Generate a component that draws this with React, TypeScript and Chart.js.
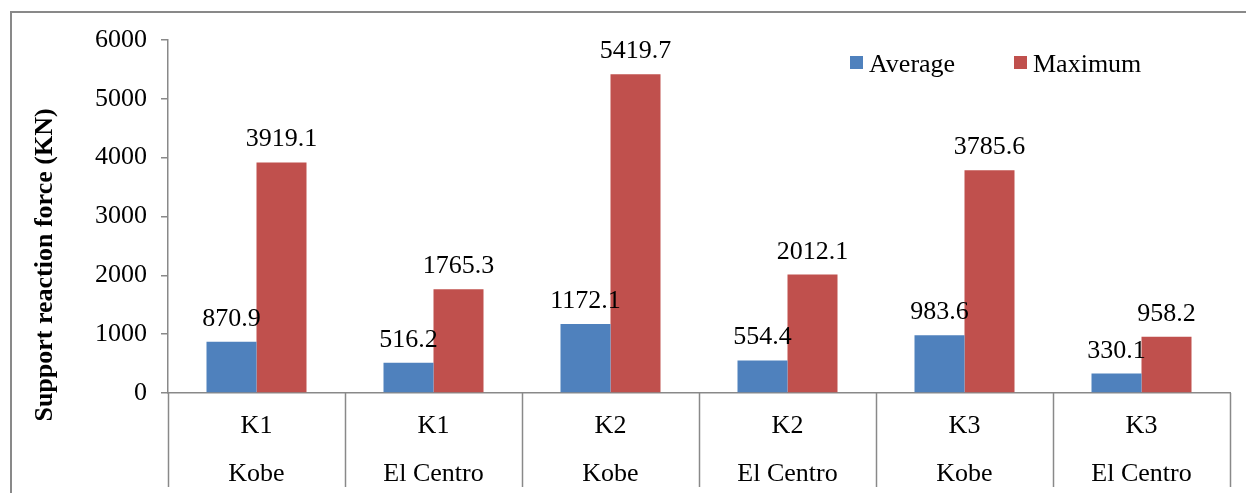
import React, { useEffect, useRef } from "react";
import { Chart, registerables } from "chart.js";

Chart.register(...registerables);

const cases = ["K1", "K1", "K2", "K2", "K3", "K3"];
const records = ["Kobe", "El Centro", "Kobe", "El Centro", "Kobe", "El Centro"];
const averageForce = [870.9, 516.2, 1172.1, 554.4, 983.6, 330.1];
const maximumForce = [3919.1, 1765.3, 5419.7, 2012.1, 3785.6, 958.2];
const seriesNames = ["Average", "Maximum"];
const seriesColors = ["#4F81BD", "#C0504D"];
const yTicks = [0, 1000, 2000, 3000, 4000, 5000, 6000];

const FONT = "'Liberation Serif', 'Times New Roman', serif";
const AXIS_GREY = "#898989";

// Frame, category separators, value labels, legend and y-axis title
const decorations = {
  id: "decorations",
  beforeDraw(chart: any) {
    const { ctx, width, height } = chart;
    ctx.save();
    ctx.fillStyle = "#ffffff";
    ctx.fillRect(0, 0, width, height);
    ctx.strokeStyle = AXIS_GREY;
    ctx.lineWidth = 2;
    ctx.beginPath();
    ctx.moveTo(11, height);
    ctx.lineTo(11, 12);
    ctx.lineTo(width, 12);
    ctx.stroke();
    ctx.restore();
  },
  afterDraw(chart: any) {
    const { ctx, chartArea } = chart;
    const x = chart.scales.x;
    ctx.save();
    // separators between categories, running down through the label rows
    ctx.strokeStyle = AXIS_GREY;
    ctx.lineWidth = 1.5;
    const n = cases.length;
    const step = (chartArea.right - chartArea.left) / n;
    for (let i = 0; i <= n; i++) {
      const px = i < n ? x.getPixelForValue(i) - step / 2 : x.getPixelForValue(n - 1) + step / 2;
      ctx.beginPath();
      ctx.moveTo(Math.round(px) + 0.5, chartArea.bottom);
      ctx.lineTo(Math.round(px) + 0.5, chartArea.bottom + 94);
      ctx.stroke();
    }
    // value labels above bars
    ctx.fillStyle = "#000";
    ctx.font = `26px ${FONT}`;
    ctx.textAlign = "center";
    ctx.textBaseline = "alphabetic";
    chart.data.datasets.forEach((ds: any, di: number) => {
      const meta = chart.getDatasetMeta(di);
      meta.data.forEach((bar: any, i: number) => {
        ctx.fillText(ds.data[i].toFixed(1), bar.x, bar.y - 16);
      });
    });
    // legend
    const legendItems = [
      { x: 850, label: seriesNames[0], color: seriesColors[0] },
      { x: 1014, label: seriesNames[1], color: seriesColors[1] },
    ];
    ctx.textAlign = "left";
    legendItems.forEach((it) => {
      ctx.fillStyle = it.color;
      ctx.fillRect(it.x, 56, 13, 13);
      ctx.fillStyle = "#000";
      ctx.fillText(it.label, it.x + 19, 72);
    });
    // y-axis title
    ctx.translate(45, 265);
    ctx.rotate(-Math.PI / 2);
    ctx.font = `bold 26px ${FONT}`;
    ctx.textAlign = "center";
    ctx.textBaseline = "middle";
    ctx.fillText("Support reaction force (KN)", 0, 0);
    ctx.restore();
  },
};

export default function App() {
  const ref = useRef<HTMLCanvasElement>(null);

  useEffect(() => {
    document.body.style.margin = "0";
    const chart = new Chart(ref.current!, {
      type: "bar",
      data: {
        labels: cases.map((c, i) => [c, records[i]]),
        datasets: [
          { label: seriesNames[0], data: averageForce, backgroundColor: seriesColors[0] },
          { label: seriesNames[1], data: maximumForce, backgroundColor: seriesColors[1] },
        ],
      },
      options: {
        responsive: false,
        animation: false,
        layout: { padding: { left: 0, top: 40, right: 16, bottom: 0 } },
        datasets: {
          bar: { barPercentage: 1, categoryPercentage: 0.565 },
        },
        plugins: {
          legend: { display: false },
          tooltip: { enabled: false },
        },
        scales: {
          x: {
            grid: { display: false },
            border: { display: true, color: AXIS_GREY, width: 1.5 },
            ticks: {
              color: "#000",
              font: { family: FONT, size: 26, lineHeight: 1.85 },
              padding: 1,
              maxRotation: 0,
              autoSkip: false,
            },
            afterFit: (s: any) => {
              s.height = 100;
            },
          },
          y: {
            min: 0,
            max: 6000,
            afterBuildTicks: (s: any) => {
              s.ticks = yTicks.map((v) => ({ value: v }));
            },
            grid: {
              drawOnChartArea: false,
              drawTicks: true,
              tickLength: 7,
              color: AXIS_GREY,
              lineWidth: 1.5,
            },
            border: { display: true, color: AXIS_GREY, width: 1.5 },
            ticks: {
              color: "#000",
              font: { family: FONT, size: 26 },
              padding: 14,
              callback: (v: any) => String(v),
            },
            afterFit: (s: any) => {
              s.width = 168;
            },
          },
        },
      },
      plugins: [decorations],
    });
    return () => chart.destroy();
  }, []);

  return (
    <div style={{ position: "absolute", left: 0, top: 0, width: 1246, height: 493 }}>
      <canvas ref={ref} width={1246} height={493} />
    </div>
  );
}
